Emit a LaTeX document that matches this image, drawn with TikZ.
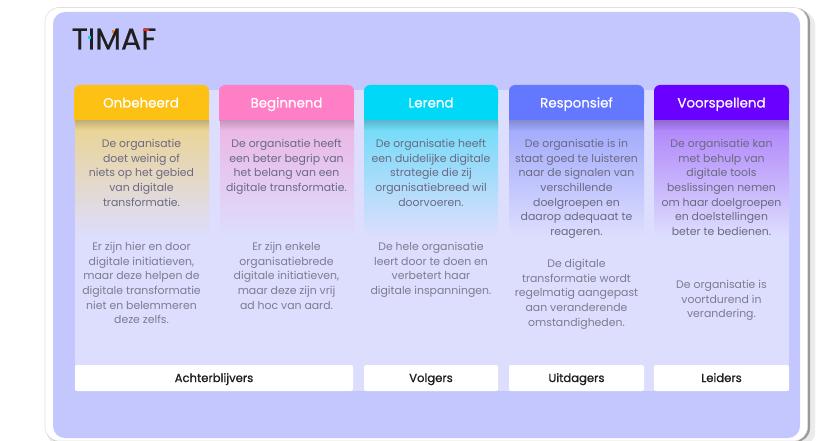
\documentclass[tikz,border=0pt]{standalone}
\usepackage{fontspec}
\setmainfont{Poppins}
\newfontfamily\medfont[FakeBold=0.5]{Poppins}
\newfontfamily\semifont[FakeBold=1.0]{Poppins}
\definecolor{lav}{HTML}{C4C7FD}
\definecolor{pane}{HTML}{DDDDFD}
\definecolor{bodytxt}{HTML}{7C7C92}
\definecolor{darktxt}{HTML}{6A6A82}
\definecolor{cA}{HTML}{FDC114}
\definecolor{cB}{HTML}{FF7FC6}
\definecolor{cC}{HTML}{00D8F8}
\definecolor{cD}{HTML}{6478FF}
\definecolor{cE}{HTML}{6A00FF}
\definecolor{gA}{HTML}{EBD490}
\definecolor{gB}{HTML}{ECB6E4}
\definecolor{gC}{HTML}{6FDCF8}
\definecolor{gD}{HTML}{9FA8FC}
\definecolor{gE}{HTML}{AE82FA}
\tikzset{
  headbox/.style={text=white,font=\medfont\fontsize{13.4}{14}\selectfont,align=center,anchor=base},
  bodytext/.style={text=bodytxt,font=\fontsize{10.9}{14.7}\selectfont,align=center,anchor=north},
  uppertext/.style={bodytext,text=darktxt},
  foottext/.style={text=black!88,font=\semifont\fontsize{11.6}{12}\selectfont,align=center,anchor=base},
  footbox/.style={fill=white,rounded corners=2pt}
}
\begin{document}
\begin{tikzpicture}[x=1pt,y=-1pt]
\useasboundingbox (0,0) rectangle (831,441);
\fill[white] (0,0) rectangle (831,441);
% outer card
\fill[black!8,rounded corners=14pt] (47,11) rectangle (815,446);
\fill[black!40,rounded corners=14pt] (46,8) rectangle (810,442);
\fill[white,draw=black!12,line width=.6pt,rounded corners=14pt] (45,7.5) rectangle (807.5,441);
\fill[lav,rounded corners=12pt] (53,12) rectangle (800,438);
% pane
\fill[pane] (75,90) rectangle (789,391);
% columns: rounded header top, gradient panel, squared header bottom, soft shadow
\foreach \xa/\xb/\pa/\cc/\gc in {74/209/75/cA/gA,219/354/220/cB/gB,364/498/364/cC/gC,509/644/509/cD/gD,654/789/654/cE/gE}{
  \fill[\cc,rounded corners=6pt] (\xa,110) -- (\xa,85) -- (\xb,85) -- (\xb,110) -- cycle;
  \fill[\cc] (\xa,100) rectangle (\xb,121);
  \shade[top color=\gc,bottom color=pane] (\pa,121) rectangle (\xb,236);
  \shade[top color=\gc!84!black,bottom color=\gc] (\pa,121) rectangle (\xb,130);
}
% footers
\fill[footbox] (75,365) rectangle (353,391);
\fill[footbox] (364,365) rectangle (498,391);
\fill[footbox] (509,365) rectangle (644,391);
\fill[footbox] (654,365) rectangle (789,391);
% logo
\node[text=black!88,font=\medfont\fontsize{30}{32}\selectfont,inner sep=0pt] (logo) at (114,39) {TIMAF};
\fill[cC] (87.5,36) rectangle (90.5,39);
\fill[orange] (111.5,30.5) rectangle (114,33);
\fill[red!70!orange] (143,29.5) rectangle (149,31);
% header labels
\node[headbox] (h1) at (141,107.5) {Onbeheerd};
\node[headbox] (h2) at (286.5,107.5) {Beginnend};
\node[headbox] (h3) at (431,107.5) {Lerend};
\node[headbox] (h4) at (576.5,107.5) {Responsief};
\node[headbox] (h5) at (721.5,107.5) {Voorspellend};
% upper text
\node[uppertext] (u1) at (141.5,135.5) {De organisatie\\doet weinig of\\niets op het gebied\\van digitale\\transformatie.};
\node[uppertext] (u2) at (286.5,135.5) {De organisatie heeft\\een beter begrip van\\het belang van een\\digitale transformatie.};
\node[uppertext] (u3) at (431,135.5) {De organisatie heeft\\een duidelijke digitale\\strategie die zij\\organisatiebreed wil\\doorvoeren.};
\node[uppertext] (u4) at (576.5,135.5) {De organisatie is in\\staat goed te luisteren\\naar de signalen van\\verschillende\\doelgroepen en\\daarop adequaat te\\reageren.};
\node[uppertext] (u5) at (721.5,135.5) {De organisatie kan\\met behulp van\\digitale tools\\beslissingen nemen\\om haar doelgroepen\\en doelstellingen\\beter te bedienen.};
% lower text
\node[bodytext] (l1) at (141.5,238.5) {Er zijn hier en door\\digitale initiatieven,\\maar deze helpen de\\digitale transformatie\\niet en belemmeren\\deze zelfs.};
\node[bodytext] (l2) at (286.5,238.5) {Er zijn enkele\\organisatiebrede\\digitale initiatieven,\\maar deze zijn vrij\\ad hoc van aard.};
\node[bodytext] (l3) at (431,238.5) {De hele organisatie\\leert door te doen en\\verbetert haar\\digitale inspanningen.};
\node[bodytext] (l4) at (576.5,255.5) {De digitale\\transformatie wordt\\regelmatig aangepast\\aan veranderende\\omstandigheden.};
\node[bodytext] (l5) at (721.5,276.5) {De organisatie is\\voortdurend in\\verandering.};
% footer labels
\node[foottext] (f1) at (214,382) {Achterblijvers};
\node[foottext] (f2) at (431,382) {Volgers};
\node[foottext] (f3) at (576.5,382) {Uitdagers};
\node[foottext] (f4) at (721.5,382) {Leiders};
\end{tikzpicture}
\end{document}
